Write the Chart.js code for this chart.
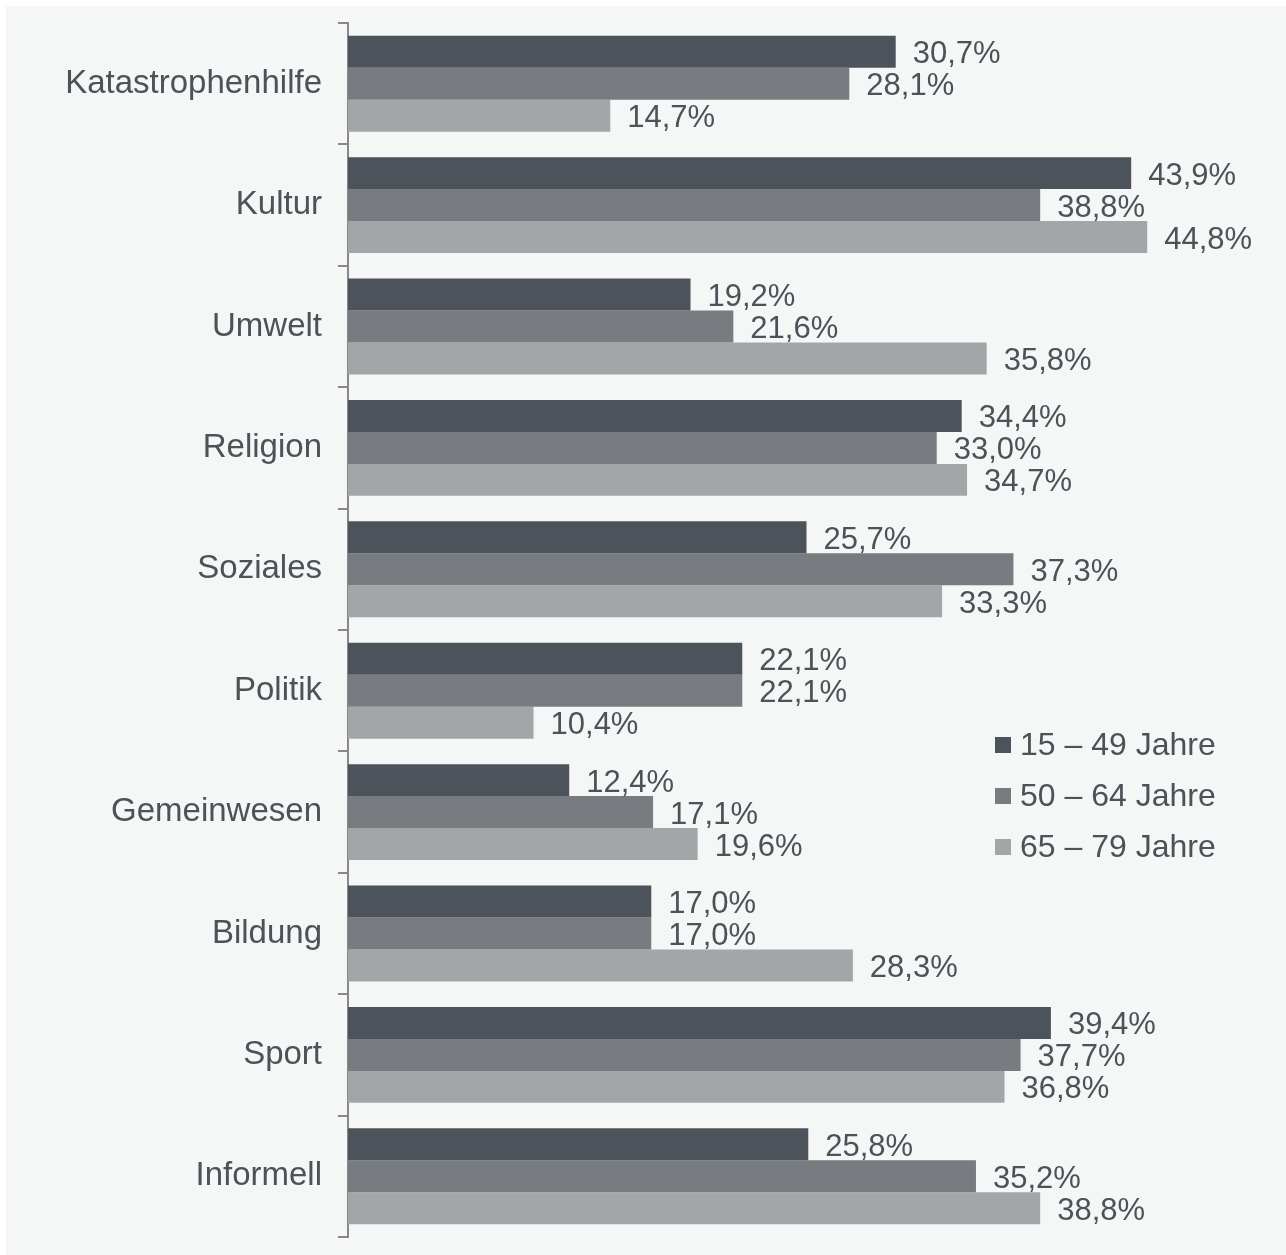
<!DOCTYPE html>
<html>
<head>
<meta charset="utf-8">
<script src="https://cdn.jsdelivr.net/npm/chart.js@4"></script>
<style>
  html, body { margin: 0; padding: 0; background: #ffffff; }
  .chart-container {
    position: absolute;
    left: 6px;
    top: 6px;
    width: 1280px;
    height: 1249px;
    background: #f5f6f6;
  }
</style>
</head>
<body>
<div class="chart-container">
  <canvas id="barChart"></canvas>
</div>
<script>
  const categories = [
    "Katastrophenhilfe", "Kultur", "Umwelt", "Religion", "Soziales",
    "Politik", "Gemeinwesen", "Bildung", "Sport", "Informell"
  ];
  const seriesLabels = ["15 – 49 Jahre", "50 – 64 Jahre", "65 – 79 Jahre"];
  const age15to49 = [30.7, 43.9, 19.2, 34.4, 25.7, 22.1, 12.4, 17.0, 39.4, 25.8];
  const age50to64 = [28.1, 38.8, 21.6, 33.0, 37.3, 22.1, 17.1, 17.0, 37.7, 35.2];
  const age65to79 = [14.7, 44.8, 35.8, 34.7, 33.3, 10.4, 19.6, 28.3, 36.8, 38.8];

  const colors = ["#4d535a", "#787c80", "#a3a6a9"];
  const textColor = "#4b5258";
  const fontFamily = "'Liberation Sans', Arial, sans-serif";

  // value labels to the right of each bar, German decimal comma
  const valueLabels = {
    id: "valueLabels",
    afterDatasetsDraw(chart) {
      const ctx = chart.ctx;
      ctx.save();
      ctx.font = "31px " + fontFamily;
      ctx.fillStyle = textColor;
      ctx.textAlign = "left";
      ctx.textBaseline = "middle";
      chart.data.datasets.forEach((ds, i) => {
        chart.getDatasetMeta(i).data.forEach((bar, j) => {
          const txt = ds.data[j].toFixed(1).replace(".", ",") + "%";
          ctx.fillText(txt, bar.x + 17, bar.y + 3);
        });
      });
      ctx.restore();
    }
  };

  // small square legend sitting inside the plot
  const boxLegend = {
    id: "boxLegend",
    afterDraw(chart, args, opts) {
      const ctx = chart.ctx;
      ctx.save();
      ctx.font = "32px " + fontFamily;
      ctx.textBaseline = "middle";
      ctx.textAlign = "left";
      chart.data.datasets.forEach((ds, i) => {
        const y = opts.y + i * opts.rowGap;
        ctx.fillStyle = ds.backgroundColor;
        ctx.fillRect(opts.x, y - 8, 16, 16);
        ctx.fillStyle = textColor;
        ctx.fillText(ds.label, opts.x + 25, y + 1);
      });
      ctx.restore();
    }
  };

  const ctx = document.getElementById("barChart").getContext("2d");
  new Chart(ctx, {
    type: "bar",
    data: {
      labels: categories,
      datasets: [
        { label: seriesLabels[0], data: age15to49, backgroundColor: colors[0] },
        { label: seriesLabels[1], data: age50to64, backgroundColor: colors[1] },
        { label: seriesLabels[2], data: age65to79, backgroundColor: colors[2] }
      ]
    },
    options: {
      indexAxis: "y",
      responsive: true,
      maintainAspectRatio: false,
      animation: false,
      layout: { padding: { top: 0, bottom: 0, left: 0, right: 46 } },
      datasets: {
        bar: { categoryPercentage: 0.79, barPercentage: 1.0, borderWidth: 0 }
      },
      scales: {
        x: {
          display: false,
          min: 0,
          max: 50
        },
        y: {
          afterFit(scale) {
            scale.width = 342;
            scale.paddingTop = 17;
            scale.paddingBottom = 18;
          },
          border: { display: true, color: "#888888", width: 2 },
          grid: {
            display: true,
            offset: true,
            drawOnChartArea: false,
            drawTicks: true,
            tickLength: 10,
            color: "#888888",
            lineWidth: 2
          },
          ticks: {
            padding: 16,
            color: textColor,
            font: { family: fontFamily, size: 33 }
          }
        }
      },
      plugins: {
        legend: { display: false },
        tooltip: { enabled: false },
        boxLegend: { x: 989, y: 739, rowGap: 51 }
      }
    },
    plugins: [valueLabels, boxLegend]
  });
</script>
</body>
</html>
